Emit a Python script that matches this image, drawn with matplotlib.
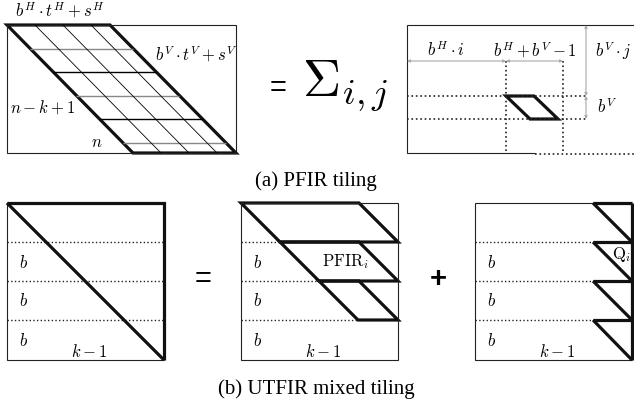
import matplotlib.pyplot as plt
from matplotlib.patches import Polygon

plt.rcParams['mathtext.fontset'] = 'cm'

# panel (a) tiling sizes (pixels)
bH, tH, sH = 28, 3, 19        # horizontal tile width, count, remainder
bV, tV, sV = 23.5, 5, 10.5    # vertical tile height, count, remainder
row_colors = ['#888888', 'black', '#888888', 'black', '#888888']

# panel (a) left block
ax0, ay0, aW, aH = 7, 25, 229, 128

# panel (b) blocks
sq_x = [7, 241, 475]
sq_y, sq_W = 203, 157
b = 39
nrows = 4

THICK = 2.3
THIN = 0.8

fig = plt.figure(figsize=(6.34, 4.08), dpi=100)
ax = fig.add_axes([0, 0, 1, 1])
ax.set_xlim(0, 634)
ax.set_ylim(408, 0)
ax.axis('off')


def line(xs, ys, lw=THIN, color='#222222', ls='-'):
    ax.plot(xs, ys, color=color, lw=lw, ls=ls, solid_capstyle='butt',
            solid_joinstyle='miter')


def mtext(x, y, s, size=12, **kw):
    ax.text(x, y, s, fontsize=size, ha='center', va='center', **kw)


# ---------- (a) left: parallelogram band ----------
ptop = bH * tH + sH
shift = aW - ptop
line([ax0, ax0 + aW, ax0 + aW, ax0, ax0], [ay0, ay0, ay0 + aH, ay0 + aH, ay0])
slope = shift / aH
# horizontal row lines
for r in range(tV):
    y = ay0 + bV * (r + 1)
    xl = ax0 + (y - ay0) * slope
    line([xl, xl + ptop], [y, y], lw=1.0, color=row_colors[r])
# diagonal column lines
for c in range(tH):
    x = ax0 + bH * (c + 1)
    line([x, x + shift], [ay0, ay0 + aH], lw=0.6, color='black')
# thick outline
ax.add_patch(Polygon([[ax0, ay0], [ax0 + ptop, ay0], [ax0 + aW, ay0 + aH],
                      [ax0 + shift, ay0 + aH]], closed=True, fill=False,
                     ec='#111111', lw=THICK, joinstyle='miter'))

mtext(60, 11, r'$b^H \cdot t^H + s^H$')
mtext(196, 55, r'$b^V \cdot t^V + s^V$')
mtext(43, 108, r'$n-k+1$')
mtext(97, 142, r'$n$')

# = sum
ax.text(278, 88, '=', fontsize=21, ha='center', va='center',
        family='Liberation Sans')
ax.text(302, 86, r'$\Sigma_{i,j}$', fontsize=38, ha='left', va='center')

# ---------- (a) right: one tile ----------
rx0, ry0, ry1 = 407, 25, 153
line([640, rx0, rx0, 535], [ry0, ry0, ry1, ry1])
line([535, 640], [ry1 + 0.5, ry1 + 0.5], lw=1.2, color='#222222', ls=':')
xi, xj = 506, 563
yi, yj = 96, 119
ydim, xdim = 61, 586
for xs in [xi, xj]:
    line([xs, xs], [ydim, ry1], lw=1.2, color='#222222', ls=':')
for ys in [yi, yj]:
    line([rx0, xdim], [ys, ys], lw=1.2, color='#222222', ls=':')
arrow = dict(arrowstyle='<|-|>', color='#aaaaaa', lw=0.8,
             mutation_scale=4, shrinkA=0, shrinkB=0)
ax.annotate('', xy=(rx0, ydim), xytext=(xi, ydim), arrowprops=arrow)
ax.annotate('', xy=(xi, ydim), xytext=(xj, ydim), arrowprops=arrow)
ax.annotate('', xy=(xdim, ry0), xytext=(xdim, yi), arrowprops=arrow)
ax.annotate('', xy=(xdim, yi), xytext=(xdim, yj), arrowprops=arrow)
ax.add_patch(Polygon([[xi, yi], [xi + bH, yi], [xj - 5, yj], [xj - 5 - bH, yj]],
                     closed=True, fill=False, ec='#111111', lw=THICK,
                     joinstyle='miter'))

mtext(446, 51, r'$b^H \cdot i$')
mtext(535, 51, r'$b^H + b^V - 1$')
mtext(613, 51, r'$b^V \cdot j$')
mtext(607, 108, r'$b^V$')

ax.text(316, 181, '(a) PFIR tiling', fontsize=15, ha='center', va='center',
        family='Liberation Serif')

# ---------- (b) UTFIR ----------
y1 = sq_y + sq_W
rows = [sq_y + b * i for i in range(nrows + 1)]
rows[-1] = y1

# left square: full triangle
x0 = sq_x[0]
line([x0, x0, x0 + sq_W], [sq_y, y1, y1])
for y in rows[1:-1]:
    line([x0, x0 + sq_W], [y, y], lw=1.0, color='#222222', ls=':')
line([x0, x0 + sq_W, x0 + sq_W], [sq_y, sq_y, y1], lw=THICK, color='#111111')
line([x0, x0 + sq_W], [sq_y, y1], lw=THICK, color='#111111')

# middle square: PFIR parallelograms
x0 = sq_x[1]
line([x0, x0 + sq_W, x0 + sq_W, x0, x0], [sq_y, sq_y, y1, y1, sq_y])
for i in range(nrows - 1):
    y = rows[i + 1]
    line([x0, x0 + b * (i + 1)], [y, y], lw=1.0, color='#222222', ls=':')
for i in range(nrows - 1):
    ya, yb = rows[i], rows[i + 1]
    xs = [x0 + b * i, x0 + sq_W - b, x0 + sq_W, x0 + b * (i + 1)]
    ax.add_patch(Polygon(list(zip(xs, [ya, ya, yb, yb])), closed=True,
                         fill=False, ec='#111111', lw=THICK, joinstyle='miter'))
mtext(345, 262, r'$\mathrm{PFIR}_i$')

# right square: Q triangles
x0 = sq_x[2]
line([x0 + sq_W - b, x0, x0, x0 + sq_W], [sq_y, sq_y, y1, y1])
for i in range(nrows - 1):
    y = rows[i + 1]
    line([x0, x0 + sq_W - b], [y, y], lw=1.0, color='#222222', ls=':')
for i in range(nrows):
    ya, yb = rows[i], rows[i + 1]
    line([x0 + sq_W - b, x0 + sq_W], [ya, ya], lw=THICK, color='#111111')
    line([x0 + sq_W - b, x0 + sq_W], [ya, yb], lw=THICK, color='#111111')
line([x0 + sq_W, x0 + sq_W], [sq_y, y1], lw=THICK, color='#111111')
mtext(622, 255, r'$\mathrm{Q}_i$')

for x0 in sq_x:
    for i in range(1, nrows):
        mtext(x0 + 17, (rows[i] + rows[i + 1]) / 2 + 1, r'$b$')
    mtext(x0 + 82, 352, r'$k-1$')

ax.text(203, 279, '=', fontsize=21, ha='center', va='center',
        family='Liberation Sans')
ax.text(438, 279, '+', fontsize=21, ha='center', va='center',
        family='Liberation Sans', fontweight='bold')

ax.text(316, 389, '(b) UTFIR mixed tiling', fontsize=15, ha='center',
        va='center', family='Liberation Serif')

fig.savefig('out.png', dpi=100)
